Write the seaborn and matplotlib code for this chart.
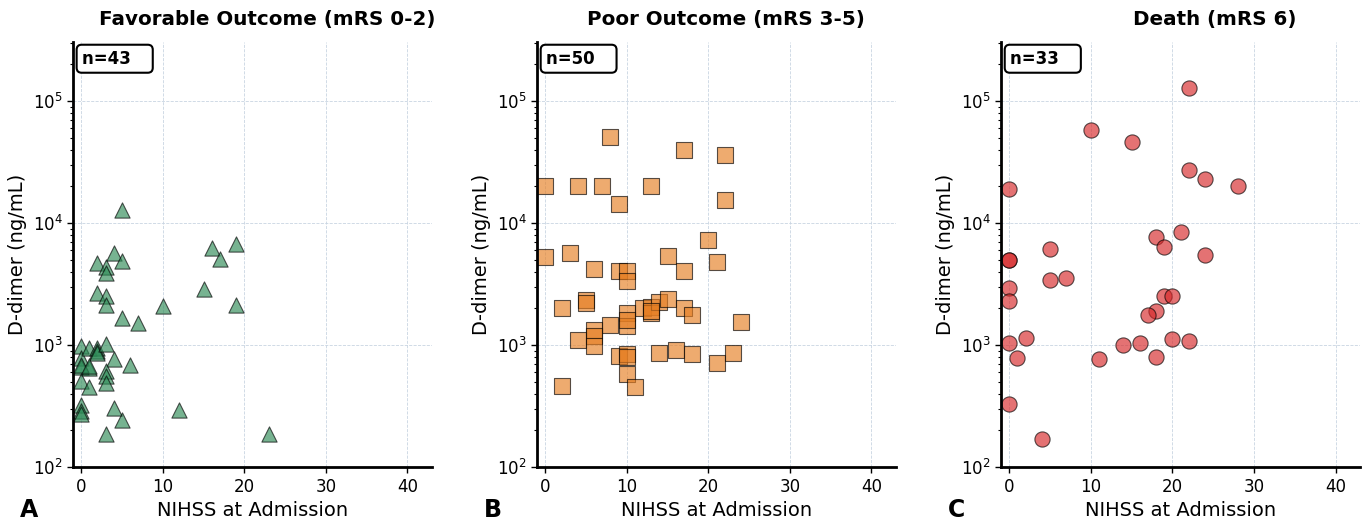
import matplotlib
matplotlib.use("Agg")
import matplotlib.pyplot as plt
import seaborn as sns
import pandas as pd

# Favorable outcome (mRS 0-2), n=43
fav_nihss = [5, 2, 3, 3, 4, 5, 2, 3, 3, 5, 7, 10, 15, 16, 17, 19, 19,
             12, 23, 3, 5, 4, 0, 0, 0,
             0, 0, 0, 0, 1, 1, 1, 2, 2, 2, 3, 4, 6, 3, 3, 3, 0, 1]
fav_ddimer = [12800, 4700, 4400, 3900, 5700, 4850, 2650, 2550, 2150, 1680, 1530, 2080, 2900, 6250, 5050, 6800, 2150,
              295, 187, 187, 245, 305, 320, 290, 270,
              980, 780, 660, 510, 950, 645, 452, 950, 900, 860, 1020, 765, 690, 610, 555, 490, 690, 680]

# Poor outcome (mRS 3-5), n=50
poor_nihss = [8, 17, 22, 0, 4, 7, 13, 9, 22, 20, 0, 3, 15, 21, 6, 9, 10, 10, 17,
              5, 5, 2, 12, 13, 13, 14, 15, 17, 18, 24, 10, 10, 8, 6, 6, 4,
              6, 9, 10, 10, 10, 11, 2, 14, 16, 18, 21, 23, 10, 13]
poor_ddimer = [51000, 39800, 36400, 20200, 20200, 20200, 20200, 14400, 15500, 7300, 5280, 5690, 5400, 4770, 4200, 4050, 4050, 3360, 4050,
               2360, 2230, 2000, 2030, 2050, 1820, 2240, 2390, 2000, 1770, 1540, 1840, 1430, 1450, 1320, 1180, 1110,
               980, 813, 844, 800, 580, 451, 462, 865, 910, 844, 718, 865, 1600, 1900]

# Death (mRS 6), n=33
death_nihss = [22, 10, 15, 22, 24, 28, 0, 21, 18, 19, 24, 5, 0, 0,
               5, 7, 0, 0, 19, 20, 18, 17, 0, 2, 1, 11, 14, 16, 18, 20, 22, 0, 4]
death_ddimer = [128000, 57700, 46300, 27200, 23000, 20100, 19200, 8440, 7690, 6370, 5520, 6140, 5020, 5000,
                3390, 3540, 2950, 2300, 2510, 2510, 1900, 1760, 1050, 1150, 789, 770, 1000, 1040, 803, 1120, 1085, 328, 170]

groups = [
    ("Favorable Outcome (mRS 0-2)", fav_nihss, fav_ddimer, "seagreen", "^", "A", 0.54),
    ("Poor Outcome (mRS 3-5)", poor_nihss, poor_ddimer, "#e67e22", "s", "B", 0.525),
    ("Death (mRS 6)", death_nihss, death_ddimer, "#d62728", "o", "C", 0.595),
]

sns.set_style("white")
plt.rcParams['font.family'] = ['DejaVu Sans']
plt.rcParams['text.color'] = 'black'
plt.rcParams['axes.labelcolor'] = 'black'
plt.rcParams['xtick.color'] = 'black'
plt.rcParams['ytick.color'] = 'black'

fig, axes = plt.subplots(1, 3, figsize=(13.7, 5.26), dpi=100)
plt.subplots_adjust(left=0.0533, right=0.9927, bottom=0.112, top=0.92, wspace=0.293)

for ax, (title, x, y, color, marker, letter, tx) in zip(axes, groups):
    df = pd.DataFrame({"nihss": x, "ddimer": y})
    sns.scatterplot(data=df, x="nihss", y="ddimer", ax=ax, color=color, marker=marker,
                    s=120, alpha=0.65, edgecolor="black", linewidth=0.8)
    ax.set_yscale("log")
    ax.set_ylim(100, 3.05e5)
    ax.set_xlim(-1, 43)
    ax.set_xticks([0, 10, 20, 30, 40])
    ax.grid(True, which="major", linestyle="--", linewidth=0.6, color="#c9d5e2")
    ax.set_axisbelow(True)
    for side in ["top", "right"]:
        ax.spines[side].set_visible(False)
    for side in ["left", "bottom"]:
        ax.spines[side].set_linewidth(2)
        ax.spines[side].set_color("black")
    ax.tick_params(axis="both", which="major", labelsize=12, length=4, width=1, left=True, bottom=True)
    ax.tick_params(axis="y", which="minor", length=2, width=0.8, left=True)
    ax.set_title(title, fontsize=14.3, fontweight="bold", pad=12, x=tx, color="black")
    ax.set_xlabel("NIHSS at Admission", fontsize=14)
    ax.set_ylabel("D-dimer (ng/mL)", fontsize=14)
    ax.text(0.024, 0.982, f"n={len(x)}   ", transform=ax.transAxes, fontsize=12, fontweight="bold",
            va="top", ha="left",
            bbox=dict(boxstyle="round,pad=0.3", facecolor="white", edgecolor="black", linewidth=1.5))
    pos = ax.get_position()
    fig.text(pos.x0 - 0.039, 0.008, letter, fontsize=17, fontweight="bold",
             family=["Liberation Sans Narrow", "DejaVu Sans"], ha="left", va="bottom")

plt.savefig("out.png", dpi=100)
